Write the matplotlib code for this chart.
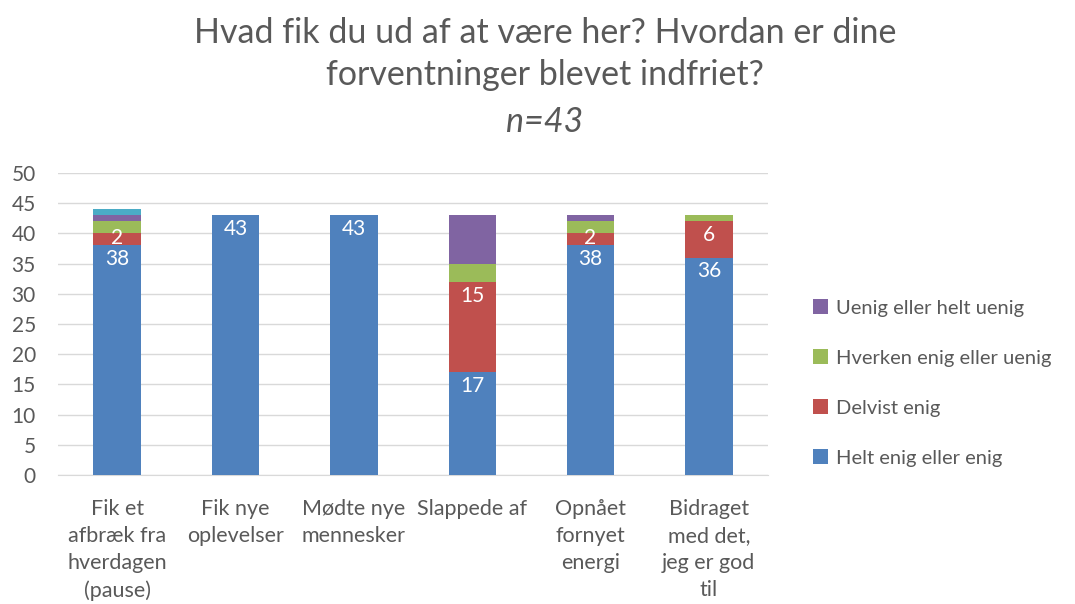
import matplotlib.pyplot as plt
import numpy as np

categories = ["Fik et\nafbræk fra\nhverdagen\n(pause)", "Fik nye\noplevelser", "Mødte nye\nmennesker",
              "Slappede af", "Opnået\nfornyet\nenergi", "Bidraget\nmed det,\njeg er god\ntil"]
helt_enig = [38, 43, 43, 17, 38, 36]
delvist = [2, 0, 0, 15, 2, 6]
hverken = [2, 0, 0, 3, 2, 1]
uenig = [1, 0, 0, 8, 1, 0]
other = [1, 0, 0, 0, 0, 0]

series = [
    ("Helt enig eller enig", helt_enig, "#4F81BD", True),
    ("Delvist enig", delvist, "#C0504D", True),
    ("Hverken enig eller uenig", hverken, "#9BBB59", False),
    ("Uenig eller helt uenig", uenig, "#8064A2", False),
    ("_nolegend_", other, "#4BACC6", False),
]

plt.rcParams['font.family'] = ['Lato', 'DejaVu Sans']
txt = "#595959"

fig = plt.figure(figsize=(10.75, 6.04), dpi=100)
ax = fig.add_axes([58/1075, 1-475/604, 710/1075, (475-173)/604])

x = np.arange(len(categories))
bottom = np.zeros(len(categories))
handles = []
for name, vals, col, lab in series:
    v = np.array(vals, dtype=float)
    b = ax.bar(x, v, 0.4, bottom=bottom, color=col, label=name, edgecolor='none', zorder=3)
    if name != "_nolegend_":
        handles.append(b)
    if lab:
        for xi, vi, bi in zip(x, v, bottom):
            if vi > 0:
                ax.text(xi, bi + vi - 2.3 if vi > 4 else bi + vi / 2 + 0.3, f"{int(vi)}",
                        ha='center', va='center', color='white', fontsize=15, zorder=4)
    bottom += v

ax.set_ylim(0, 50)
ax.set_xlim(-0.5, len(categories) - 0.5)
ax.set_yticks(range(0, 51, 5))
ax.yaxis.grid(True, color="#D9D9D9", linewidth=1, zorder=0)
ax.set_axisbelow(True)
for s in ['left', 'top', 'right']:
    ax.spines[s].set_visible(False)
ax.spines['bottom'].set_color("#D9D9D9")
ax.tick_params(axis='both', length=0, colors=txt, labelsize=15)
ax.tick_params(axis='y', pad=16)
ax.tick_params(axis='x', pad=17, labelsize=15.5)
ax.set_xticks(x)
ax.set_xticklabels(categories, linespacing=1.45)

fig.text(545/1075, 1-33/604, "Hvad fik du ud af at være her? Hvordan er dine", ha='center', va='center',
         fontsize=24.5, color=txt)
fig.text(545/1075, 1-75/604, "forventninger blevet indfriet?", ha='center', va='center',
         fontsize=24.5, color=txt)
fig.text(545/1075, 1-122/604, "n=43", ha='center', va='center', fontsize=24.5, color=txt, style='italic')

leg = fig.legend(handles[::-1], [h.get_label() for h in handles[::-1]], loc='center left',
                 bbox_to_anchor=(795/1075, 1-383/604), frameon=False, fontsize=14.5,
                 labelspacing=1.62, handlelength=0.75, handleheight=0.75, handletextpad=0.4)
for t in leg.get_texts():
    t.set_color(txt)

fig.savefig("out.png", dpi=100)
